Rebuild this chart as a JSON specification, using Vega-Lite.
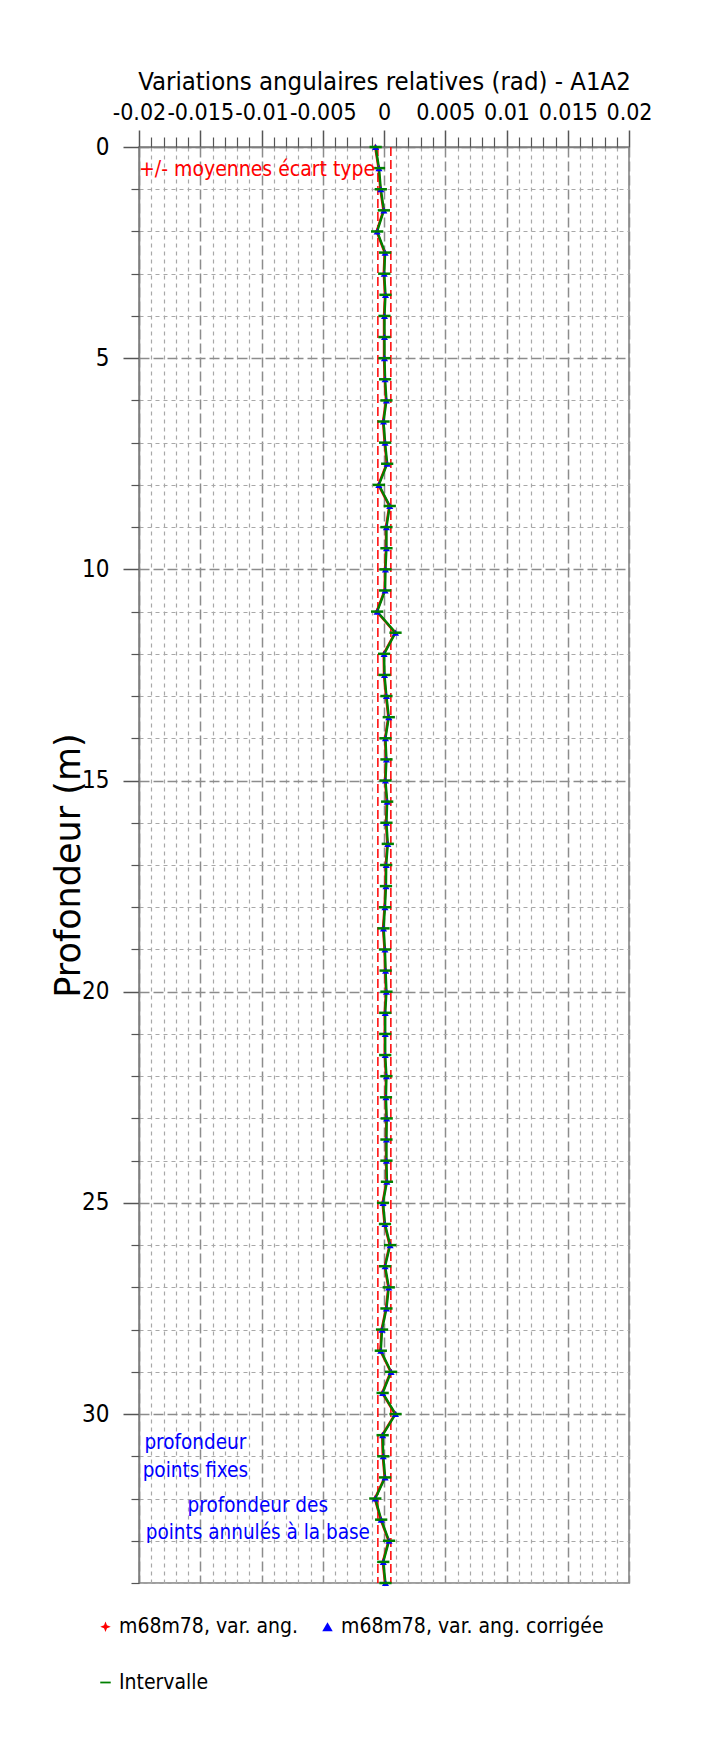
{
  "$schema": "https://vega.github.io/schema/vega-lite/v6.json",
  "width": 490,
  "height": 1436,
  "autosize": {"type": "none"},
  "padding": {"left": 139, "top": 147, "right": 94, "bottom": 162},
  "background": "white",
  "config": {
    "font": "'DejaVu Sans Condensed', 'DejaVu Sans', sans-serif",
    "view": {"stroke": "#7f7f7f", "strokeWidth": 1.5}
  },
  "datasets": {
    "profil": [
      {"depth": 0, "ang": -0.00072, "corr": -0.00068},
      {"depth": 0.5, "ang": -0.00045, "corr": -0.00041},
      {"depth": 1, "ang": -0.0003, "corr": -0.00026},
      {"depth": 1.5, "ang": -0.00005, "corr": -0.00001},
      {"depth": 2, "ang": -0.0006, "corr": -0.00056},
      {"depth": 2.5, "ang": 0.00005, "corr": 0.00009},
      {"depth": 3, "ang": -0.00002, "corr": 0.00002},
      {"depth": 3.5, "ang": 0.00008, "corr": 0.00012},
      {"depth": 4, "ang": 0.0, "corr": 0.00004},
      {"depth": 4.5, "ang": 0.0, "corr": 0.00004},
      {"depth": 5, "ang": 0.0, "corr": 0.00004},
      {"depth": 5.5, "ang": 0.00005, "corr": 0.00009},
      {"depth": 6, "ang": 0.00016, "corr": 0.0002},
      {"depth": 6.5, "ang": -0.00008, "corr": -0.00004},
      {"depth": 7, "ang": 0.00005, "corr": 0.00009},
      {"depth": 7.5, "ang": 0.00022, "corr": 0.00026},
      {"depth": 8, "ang": -0.00046, "corr": -0.00042},
      {"depth": 8.5, "ang": 0.00043, "corr": 0.00047},
      {"depth": 9, "ang": 0.00016, "corr": 0.0002},
      {"depth": 9.5, "ang": 0.00016, "corr": 0.0002},
      {"depth": 10, "ang": 0.00008, "corr": 0.00012},
      {"depth": 10.5, "ang": 0.00005, "corr": 0.00009},
      {"depth": 11, "ang": -0.0006, "corr": -0.00056},
      {"depth": 11.5, "ang": 0.0009, "corr": 0.00094},
      {"depth": 12, "ang": -0.00003, "corr": 0.00001},
      {"depth": 12.5, "ang": 0.0, "corr": 0.00004},
      {"depth": 13, "ang": 0.00016, "corr": 0.0002},
      {"depth": 13.5, "ang": 0.00035, "corr": 0.00039},
      {"depth": 14, "ang": 0.00008, "corr": 0.00012},
      {"depth": 14.5, "ang": 0.00016, "corr": 0.0002},
      {"depth": 15, "ang": 0.00008, "corr": 0.00012},
      {"depth": 15.5, "ang": 0.00022, "corr": 0.00026},
      {"depth": 16, "ang": 0.00016, "corr": 0.0002},
      {"depth": 16.5, "ang": 0.00027, "corr": 0.00031},
      {"depth": 17, "ang": 0.00014, "corr": 0.00018},
      {"depth": 17.5, "ang": 0.00012, "corr": 0.00016},
      {"depth": 18, "ang": 0.00004, "corr": 0.00008},
      {"depth": 18.5, "ang": -0.00008, "corr": -0.00004},
      {"depth": 19, "ang": 0.00004, "corr": 0.00008},
      {"depth": 19.5, "ang": 0.00009, "corr": 0.00013},
      {"depth": 20, "ang": 0.00016, "corr": 0.0002},
      {"depth": 20.5, "ang": 0.00006, "corr": 0.0001},
      {"depth": 21, "ang": 0.00006, "corr": 0.0001},
      {"depth": 21.5, "ang": 0.00006, "corr": 0.0001},
      {"depth": 22, "ang": 0.00016, "corr": 0.0002},
      {"depth": 22.5, "ang": 0.00012, "corr": 0.00016},
      {"depth": 23, "ang": 0.00018, "corr": 0.00022},
      {"depth": 23.5, "ang": 0.00016, "corr": 0.0002},
      {"depth": 24, "ang": 0.00016, "corr": 0.0002},
      {"depth": 24.5, "ang": 0.0002, "corr": 0.00024},
      {"depth": 25, "ang": -0.00012, "corr": -0.00008},
      {"depth": 25.5, "ang": 0.00004, "corr": 0.00008},
      {"depth": 26, "ang": 0.00046, "corr": 0.0005},
      {"depth": 26.5, "ang": 0.00005, "corr": 0.00009},
      {"depth": 27, "ang": 0.00035, "corr": 0.00039},
      {"depth": 27.5, "ang": 0.00016, "corr": 0.0002},
      {"depth": 28, "ang": -0.0002, "corr": -0.00016},
      {"depth": 28.5, "ang": -0.0003, "corr": -0.00026},
      {"depth": 29, "ang": 0.00054, "corr": 0.00058},
      {"depth": 29.5, "ang": -0.00015, "corr": -0.00011},
      {"depth": 30, "ang": 0.0009, "corr": 0.00094},
      {"depth": 30.5, "ang": -0.00015, "corr": -0.00011},
      {"depth": 31, "ang": -0.0001, "corr": -0.00006},
      {"depth": 31.5, "ang": 0.00005, "corr": 0.00009},
      {"depth": 32, "ang": -0.00075, "corr": -0.00071},
      {"depth": 32.5, "ang": -0.00027, "corr": -0.00023},
      {"depth": 33, "ang": 0.00037, "corr": 0.00041},
      {"depth": 33.5, "ang": -0.0001, "corr": -0.00006},
      {"depth": 34, "ang": 0.00008, "corr": 0.00012}
    ],
    "bornes": [{"b": -0.0005}, {"b": 0.00056}]
  },
  "resolve": {"axis": {"x": "independent", "y": "independent"}},
  "layer": [
    {
      "data": {"name": "bornes"},
      "mark": {"type": "rule", "color": "#ff0000", "strokeDash": [9, 4], "strokeWidth": 1.5},
      "encoding": {
        "x": {"field": "b", "type": "quantitative", "axis": null}
      }
    },
    {
      "data": {"name": "profil"},
      "mark": {"type": "line", "color": "#ff0000", "strokeWidth": 2.4},
      "encoding": {
        "x": {
          "field": "ang", "type": "quantitative",
          "scale": {"domain": [-0.02, 0.02], "nice": false, "zero": false},
          "axis": {
            "orient": "top",
            "values": [-0.02, -0.015, -0.01, -0.005, 0, 0.005, 0.01, 0.015, 0.02],
            "labelExpr": "'' + datum.value",
            "labelOverlap": false, "labelFlush": false, "labelBound": false,
            "labelFontSize": 23, "labelColor": "#000000",
            "labelPadding": 6,
            "tickSize": 17, "tickColor": "#555555", "tickWidth": 1.5,
            "domain": true, "domainColor": "#7f7f7f", "domainWidth": 1.5,
            "grid": true, "gridColor": "#8c8c8c", "gridDash": [10, 4], "gridWidth": 1.5,
            "title": "Variations angulaires relatives (rad) - A1A2",
            "titleFontSize": 25.5, "titleFontWeight": "normal",
            "titleColor": "#000000", "titlePadding": 7
          }
        },
        "y": {
          "field": "depth", "type": "quantitative",
          "scale": {"domain": [0, 34], "reverse": true, "nice": false, "zero": false},
          "axis": {
            "orient": "left",
            "values": [0, 5, 10, 15, 20, 25, 30],
            "labelFontSize": 24, "labelColor": "#000000",
            "labelPadding": 14, "labelOverlap": false, "labelBound": false, "labelFlush": false,
            "tickSize": 16, "tickColor": "#555555", "tickWidth": 1.5,
            "domain": true, "domainColor": "#7f7f7f", "domainWidth": 1.5,
            "grid": true, "gridColor": "#8c8c8c", "gridDash": [10, 4], "gridWidth": 1.5,
            "title": "Profondeur (m)",
            "titleFont": "DejaVu Sans", "titleFontSize": 35, "titleFontWeight": "normal",
            "titleColor": "#000000",
            "titleX": -71, "titleY": 718, "titleAngle": -90,
            "titleAlign": "center", "titleBaseline": "middle"
          }
        },
        "order": {"field": "depth", "type": "quantitative"}
      }
    },
    {
      "data": {"name": "profil"},
      "mark": {"type": "line", "color": "#008000", "strokeWidth": 2.4},
      "encoding": {
        "x": {
          "field": "corr", "type": "quantitative",
          "axis": {
            "orient": "top",
            "values": [-0.019, -0.018, -0.017, -0.016, -0.014, -0.013, -0.012, -0.011, -0.009, -0.008, -0.007, -0.006, -0.004, -0.003, -0.002, -0.001, 0.001, 0.002, 0.003, 0.004, 0.006, 0.007, 0.008, 0.009, 0.011, 0.012, 0.013, 0.014, 0.016, 0.017, 0.018, 0.019],
            "labels": false, "domain": false,
            "tickSize": 10, "tickColor": "#555555", "tickWidth": 1.2,
            "grid": true, "gridColor": "#a8a8a8", "gridDash": [4, 4], "gridWidth": 1.2,
            "title": null
          }
        },
        "y": {
          "field": "depth", "type": "quantitative",
          "axis": {
            "orient": "left",
            "values": [1, 2, 3, 4, 6, 7, 8, 9, 11, 12, 13, 14, 16, 17, 18, 19, 21, 22, 23, 24, 26, 27, 28, 29, 31, 32, 33, 34],
            "labels": false, "domain": false,
            "tickSize": 8, "tickColor": "#555555", "tickWidth": 1.2,
            "grid": true, "gridColor": "#a8a8a8", "gridDash": [4, 4], "gridWidth": 1.2,
            "title": null
          }
        },
        "order": {"field": "depth", "type": "quantitative"}
      }
    },
    {
      "data": {"name": "profil"},
      "transform": [{"fold": ["ang", "corr"], "as": ["key", "value"]}],
      "mark": {"type": "point", "filled": true, "size": 50, "opacity": 1},
      "encoding": {
        "x": {"field": "value", "type": "quantitative", "axis": null},
        "y": {"field": "depth", "type": "quantitative", "axis": null},
        "color": {
          "field": "key", "type": "nominal",
          "scale": {"domain": ["ang", "int", "corr"], "range": ["#ff0000", "#008000", "#0000ff"]},
          "legend": {
            "orient": "none", "legendX": -44, "legendY": 1469,
            "columns": 2, "columnPadding": 18, "rowPadding": 34,
            "title": null, "padding": 0,
            "labelFontSize": 21, "labelColor": "#000000",
            "labelLimit": 400, "labelOffset": 3,
            "symbolSize": 110,
            "labelExpr": "datum.value == 'ang' ? 'm68m78, var. ang.' : datum.value == 'corr' ? 'm68m78, var. ang. corrigée' : 'Intervalle'"
          }
        },
        "shape": {
          "field": "key", "type": "nominal",
          "scale": {"domain": ["ang", "int", "corr"], "range": ["M0,-1L0.28,-0.28L1,0L0.28,0.28L0,1L-0.28,0.28L-1,0L-0.28,-0.28Z", "M-1,-0.17H1V0.17H-1Z", "triangle-up"]},
          "legend": {
            "orient": "none", "legendX": -44, "legendY": 1469,
            "columns": 2, "columnPadding": 18, "rowPadding": 34,
            "title": null, "padding": 0,
            "labelFontSize": 21, "labelColor": "#000000",
            "labelLimit": 400, "labelOffset": 3,
            "symbolSize": 110,
            "labelExpr": "datum.value == 'ang' ? 'm68m78, var. ang.' : datum.value == 'corr' ? 'm68m78, var. ang. corrigée' : 'Intervalle'"
          }
        }
      }
    },
    {
      "data": {"name": "profil"},
      "mark": {"type": "point", "shape": "M-1,0H1", "size": 150, "filled": false, "color": "#008000", "strokeWidth": 2.5, "opacity": 1},
      "encoding": {
        "x": {"field": "corr", "type": "quantitative", "axis": null},
        "y": {"field": "depth", "type": "quantitative", "axis": null}
      }
    },
    {
      "data": {"values": [{}]},
      "mark": {"type": "text", "text": "+/- moyennes écart type", "color": "#ff0000", "fontSize": 21, "align": "left", "baseline": "middle"},
      "encoding": {
        "x": {"datum": -0.02, "type": "quantitative", "axis": null},
        "y": {"datum": 0.55, "type": "quantitative", "axis": null}
      }
    },
    {
      "data": {"values": [{}]},
      "mark": {"type": "text", "text": ["profondeur", "points fixes"], "color": "#0000ff", "fontSize": 20.5, "lineHeight": 28, "align": "center", "baseline": "middle"},
      "encoding": {
        "x": {"datum": -0.0154, "type": "quantitative", "axis": null},
        "y": {"datum": 30.69, "type": "quantitative", "axis": null}
      }
    },
    {
      "data": {"values": [{}]},
      "mark": {"type": "text", "text": ["profondeur des", "points annulés à la base"], "color": "#0000ff", "fontSize": 20.5, "lineHeight": 27, "align": "center", "baseline": "middle"},
      "encoding": {
        "x": {"datum": -0.0103, "type": "quantitative", "axis": null},
        "y": {"datum": 32.18, "type": "quantitative", "axis": null}
      }
    }
  ]
}
